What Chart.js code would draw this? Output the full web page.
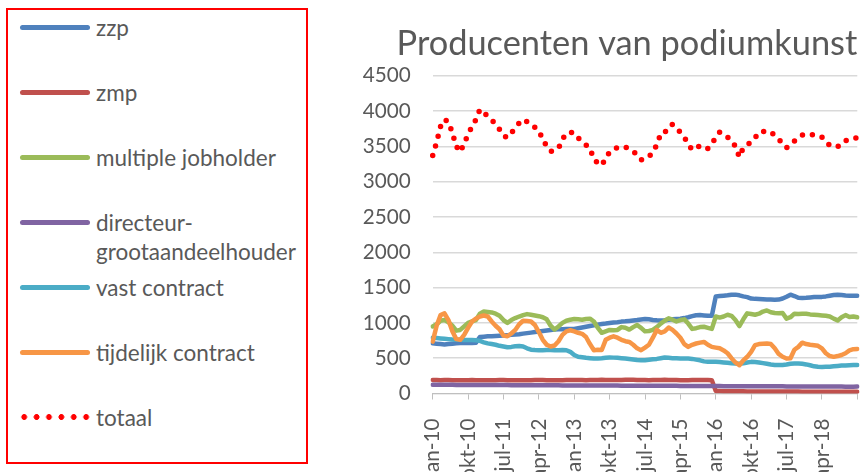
<!DOCTYPE html>
<html>
<head>
<meta charset="utf-8">
<script src="https://cdn.jsdelivr.net/npm/chart.js@4"></script>
<style>
body { margin:0; background:#fff; width:868px; height:472px; overflow:hidden; position:relative; font-family:Lato, sans-serif; color:#595959; }
#legend { position:absolute; left:6px; top:8px; width:298px; height:452px; border:2px solid #ff0000; }
.swatch { position:absolute; left:12px; width:70px; height:5px; border-radius:3px; }
.dots { position:absolute; left:10px; width:76px; height:6px; background-image:radial-gradient(circle, #ff0000 2.6px, rgba(255,0,0,0) 3.2px); background-size:12.4px 6px; background-repeat:repeat-x; }
.txt { position:absolute; left:88px; width:208px; line-height:29px; }
#wrap { position:absolute; left:330px; top:0; width:538px; height:472px; }
</style>
</head>
<body>
<div id="legend"></div>
<div id="wrap"><canvas id="chart" width="538" height="472"></canvas></div>
<script>
// month names (Dutch), first month jan-10, 109 monthly points up to jan-19
var monthNames = ['jan','feb','mrt','apr','mei','jun','jul','aug','sep','okt','nov','dec'];
var categories = [];
for (var i = 0; i < 109; i++) {
  categories.push(monthNames[i % 12] + '-' + (10 + Math.floor(i / 12)));
}

var seriesNames = ['zzp', 'zmp', 'multiple jobholder', 'directeur-grootaandeelhouder', 'vast contract', 'tijdelijk contract', 'totaal'];
var seriesColors = ['#4f81bd', '#c0504d', '#9bbb59', '#8064a2', '#4bacc6', '#f79646', '#ff0000'];

var zzp = [710, 705, 700, 695, 700, 705, 710, 715, 715, 720, 715, 720,
  800, 805, 810, 812, 815, 818, 820, 825, 830, 835, 840, 848, 855, 862, 870, 878, 885, 893, 900, 905, 908, 910, 912, 915, 915,
  925, 935, 945, 955, 965, 975, 985, 990, 997, 1005, 1010, 1018, 1022, 1028, 1035, 1040, 1048, 1054, 1050, 1042, 1036, 1034, 1038, 1044, 1050, 1054, 1058, 1068, 1080, 1095, 1108, 1110, 1105, 1100, 1100,
  1375, 1380, 1385, 1390, 1398, 1400, 1390, 1375, 1365, 1345, 1340, 1338, 1335, 1332, 1330, 1328, 1330, 1345, 1370, 1399, 1380, 1355, 1352, 1355, 1360, 1365, 1366, 1368, 1375, 1385, 1395, 1399, 1395, 1388, 1385, 1385, 1385];

var zmp = [192,190,188,190,191,189,188,187,188,189,190,188,
  187,186,187,188,189,190,190,189,188,187,186,187,
  188,189,190,191,190,189,188,187,188,189,190,191,
  192,191,190,189,190,191,192,193,192,191,190,191,
  192,193,194,193,192,191,190,189,190,191,192,193,
  192,191,190,189,188,189,190,191,192,191,190,189,
  35,34,33,33,32,32,31,31,30,30,30,29,29,29,28,28,28,28,27,27,27,27,26,26,26,26,26,25,25,25,25,25,24,24,24,24,24];

var multipleJobholder = [950, 980, 1030, 1040, 1010, 960, 890, 900, 950, 1000,
  1020, 1040, 1130, 1160, 1155, 1148, 1130, 1100, 1040, 1000,
  1040, 1068, 1090, 1110, 1124, 1115, 1105, 1095, 1080, 1050,
  960, 905, 950, 1000, 1030, 1045, 1054,
  1050, 1044, 1055, 1060, 1020, 930, 860, 880, 900, 895,
  900, 940, 930, 905, 940, 970, 930, 880, 885, 900,
  940, 990, 1030, 1065, 1045, 1020, 1040, 1050, 990, 915,
  925, 940, 945, 930, 915, 1090,
  1075, 1090, 1115, 1100, 1040, 955, 1050, 1135, 1125, 1115,
  1130, 1160, 1176, 1150, 1139, 1135, 1139, 1060, 1080, 1130,
  1125, 1130, 1130, 1120, 1115, 1110, 1105, 1100, 1090, 1060,
  1035, 1080, 1110, 1082, 1090, 1080];

var dga = [125,124,124,123,123,123,122,122,122,121,121,121,
  120,120,120,120,119,119,119,119,118,118,118,118,
  118,117,117,117,117,116,116,116,116,115,115,115,
  115,114,114,114,114,113,113,113,112,112,112,112,
  111,111,111,110,110,110,110,109,109,109,109,108,
  108,108,108,107,107,107,107,106,106,106,106,105,
  105,105,104,104,104,104,103,103,103,103,102,102,
  102,102,101,101,101,101,100,100,100,100,100,99,
  99,99,99,98,98,98,98,98,98,97,97,97,
  98];

var vastContract = [790, 785, 780, 775, 770, 765, 762, 760, 758, 758,
  757, 755, 745, 725, 710, 700, 690, 675, 665, 655,
  660, 668, 672, 665, 640, 620, 615, 612, 613, 615,
  616, 614, 613, 615, 612, 590, 545, 520, 512, 505,
  500, 495, 497, 500, 505, 510, 508, 505, 500, 495,
  488, 480, 473, 470, 472, 478, 485, 490, 500, 510,
  505, 500, 498, 496, 494, 495, 490, 480, 470, 455,
  450, 448, 448, 446, 440, 435, 428, 425, 420, 428,
  440, 448, 445, 440, 430, 420, 410, 405, 402, 405,
  410, 420, 425, 425, 420, 412, 400, 385, 378, 377,
  378, 380, 385, 390, 395, 398, 400, 402, 402];

var tijdelijkContract = [735, 960, 1110, 1135, 1040, 880, 770, 760, 830, 930,
  1020, 1060, 1090, 1105, 1090, 1020, 960, 910, 820, 810,
  850, 900, 980, 1030, 1025, 1020, 970, 870, 760, 690,
  665, 680, 740, 830, 880, 895, 880, 860, 845, 800,
  700, 613, 620, 615, 760, 790, 810, 790, 760, 740,
  730, 690, 640, 613, 650, 690, 790, 900, 860, 880,
  934, 900, 850, 790, 700, 660, 690, 708, 720, 730,
  690, 660, 650, 640, 610, 570, 500, 440, 400, 470,
  520, 590, 684, 700, 705, 708, 700, 640, 560, 520,
  495, 500, 620, 660, 720, 700, 690, 684, 675, 640,
  570, 530, 519, 530, 545, 570, 610, 627, 630];

var totaal = [3370, 3560, 3780, 3880, 3850, 3690, 3500, 3420, 3540, 3670,
  3780, 3877, 4020, 3970, 3930, 3870, 3820, 3740, 3650, 3625,
  3690, 3760, 3830, 3880, 3850, 3820, 3770, 3720, 3600, 3500,
  3430, 3440, 3470, 3600, 3680, 3700, 3690, 3620, 3560, 3520,
  3470, 3320, 3260, 3230, 3330, 3420, 3460, 3480, 3490, 3490,
  3460, 3430, 3380, 3310, 3320, 3350, 3420, 3520, 3680, 3690,
  3780, 3810, 3750, 3700, 3630, 3530, 3450, 3470, 3510, 3500,
  3470, 3540, 3620, 3700, 3670, 3630, 3580, 3500, 3350, 3480,
  3520, 3560, 3620, 3700, 3710, 3710, 3705, 3650, 3600, 3540,
  3480, 3530, 3575, 3620, 3660, 3670, 3670, 3660, 3645, 3630,
  3570, 3510, 3500, 3495, 3530, 3580, 3600, 3610, 3620];

var allSeries = [zzp, zmp, multipleJobholder, dga, vastContract, tijdelijkContract, totaal];
var yTicks = [0, 500, 1000, 1500, 2000, 2500, 3000, 3500, 4000, 4500];

// size a font so a text gets a given width
var mctx = document.createElement('canvas').getContext('2d');
function fitSize(text, family, width) {
  mctx.font = '100px ' + family;
  return 100 * width / mctx.measureText(text).width;
}
var FAM = 'Lato';
var titleText = 'Producenten van podiumkunst';
var titleSize = fitSize(titleText, FAM, 461);
var tickSize = fitSize('4500', FAM, 48);
var legendSize = fitSize('grootaandeelhouder', FAM, 200);

// legend (html)
var legend = document.getElementById('legend');
var rowY = [27, 92, 157, 222, 287, 352, 417];
for (var k = 0; k < seriesNames.length; k++) {
  var sw = document.createElement('div');
  if (k === 6) {
    sw.className = 'dots';
    sw.style.top = (rowY[k] - 10 - 3) + 'px';
  } else {
    sw.className = 'swatch';
    sw.style.background = seriesColors[k];
    sw.style.top = (rowY[k] - 10 - 2.5) + 'px';
  }
  legend.appendChild(sw);
  var t = document.createElement('div');
  t.className = 'txt';
  t.style.top = (rowY[k] - 10 - 14.5) + 'px';
  t.style.fontSize = legendSize + 'px';
  t.textContent = seriesNames[k];
  legend.appendChild(t);
}

var datasets = allSeries.map(function (d, k) {
  var ds = {
    label: seriesNames[k],
    data: d,
    borderColor: seriesColors[k],
    backgroundColor: seriesColors[k],
    borderWidth: 4.5,
    pointRadius: 0,
    tension: 0,
    fill: false,
    borderJoinStyle: 'round',
    borderCapStyle: 'round',
    order: 10 - k
  };
  if (k === 6) {
    ds.borderWidth = 5.5;
    ds.borderDash = [0, 10];
  }
  return ds;
});

var titlePadTop = 44 - 0.6 * titleSize;
var titlePadBottom = 75.7 - titlePadTop - 1.2 * titleSize;

new Chart(document.getElementById('chart'), {
  type: 'line',
  data: { labels: categories, datasets: datasets },
  options: {
    responsive: false,
    animation: false,
    layout: { padding: { top: 0, right: 10.7, left: 0, bottom: 0 } },
    plugins: {
      legend: { display: false },
      tooltip: { enabled: false },
      title: {
        display: true, text: titleText, align: 'end', color: '#595959',
        font: { family: FAM, size: titleSize, weight: 'normal', lineHeight: 1.2 },
        padding: { top: titlePadTop, bottom: titlePadBottom }
      }
    },
    scales: {
      x: {
        grid: {
          drawOnChartArea: false, drawTicks: true, tickLength: 6, lineWidth: 1,
          color: function (c) { return c.index % 9 === 0 ? '#bfbfbf' : 'rgba(0,0,0,0)'; }
        },
        border: { color: '#bfbfbf', width: 1 },
        ticks: {
          autoSkip: false, minRotation: 90, maxRotation: 90, padding: 19,
          color: '#595959', font: { family: FAM, size: tickSize },
          callback: function (v, i) { return (i % 9 === 0 && i < 108) ? categories[i] : ''; }
        },
        afterFit: function (s) { s.height = 78.5; s.paddingLeft = 0; s.paddingRight = 0; }
      },
      y: {
        min: 0, max: 4500,
        afterBuildTicks: function (s) { s.ticks = yTicks.map(function (v) { return { value: v }; }); },
        grid: { color: '#d9d9d9', lineWidth: 1.5, drawTicks: false },
        border: { display: false },
        ticks: {
          padding: 22, color: '#595959', font: { family: FAM, size: tickSize },
          callback: function (v) { return String(v); }
        },
        afterFit: function (s) { s.width = 102.7; }
      }
    }
  }
});
</script>
</body>
</html>
